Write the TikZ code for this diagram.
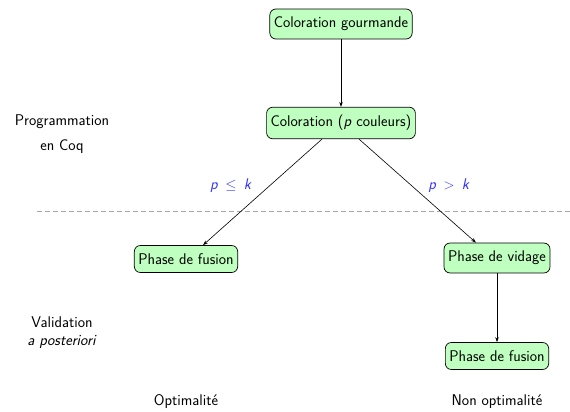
\documentclass[tikz,border=0pt]{standalone}
\usetikzlibrary{arrows.meta,calc}
\renewcommand{\familydefault}{\sfdefault}
\begin{document}
\begin{tikzpicture}[x=1pt,y=-1pt,
  every node/.style={font=\fontsize{15.5}{18}\selectfont\sffamily},
  box/.style={draw=black, fill=green!25, rounded corners=6pt, line width=0.7pt, inner xsep=4pt, inner ysep=8pt},
  lbl/.style={align=center},
  cond/.style={text=blue!80!white},
  arr/.style={-{Stealth[length=5pt,width=3.5pt]}, line width=0.6pt}]
\useasboundingbox (0,0) rectangle (570,412);
\node[box] (g) at (341,24) {Coloration gourmande};
\node[box] (c) at (341,123) {Coloration (\textit{p} couleurs)};
\node[box] (f1) at (186,259) {Phase de fusion};
\node[box] (v) at (497,258) {Phase de vidage};
\node[box] (f2) at (497,356) {Phase de fusion};
\node[lbl] (prog) at (62,134) {Programmation\\[7pt]en Coq};
\node[lbl] (val) at (62,333) {Validation\\\textit{a posteriori}};
\node (opt) at (186,402) {Optimalité};
\node (nopt) at (497,402) {Non optimalité};
\node[cond] (le) at (231,186) {\textit{p} $\,\leq\,$ \textit{k}};
\node[cond] (gt) at (449,186) {\textit{p} $\,>\,$ \textit{k}};
\coordinate (dl) at (37,211);
\coordinate (dr) at (570,211);
\draw[gray!70, dash pattern=on 5pt off 3pt, line width=0.8pt] (dl) -- (dr);
\draw[arr] (g) -- (c);
\draw[arr] ($(c.south)+(-19,0)$) -- ($(f1.north)+(17,0)$);
\draw[arr] ($(c.south)+(18,0)$) -- ($(v.north)+(-21,0)$);
\draw[arr] (v) -- (f2);
\end{tikzpicture}
\end{document}
